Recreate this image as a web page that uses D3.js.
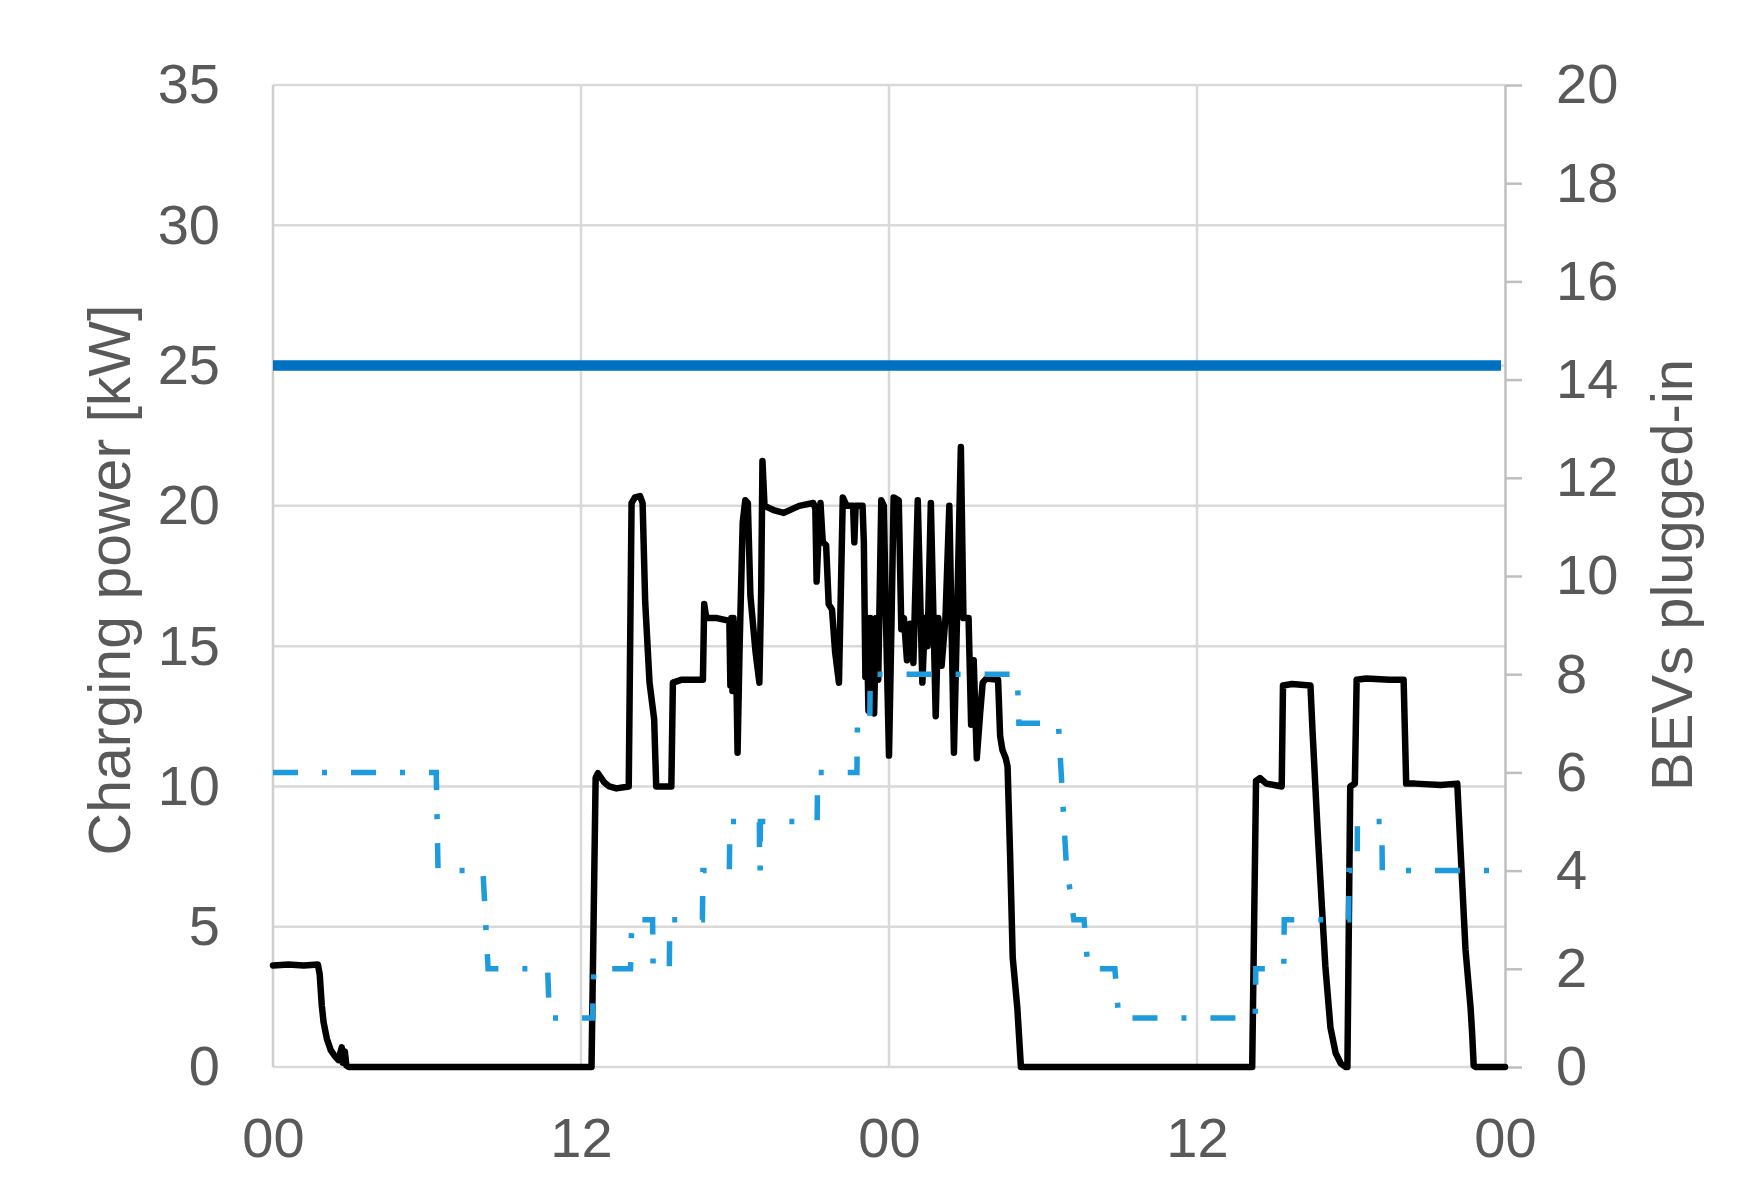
<!DOCTYPE html>
<html><head><meta charset="utf-8">
<script src="https://cdn.jsdelivr.net/npm/d3@7"></script>
<style>
body{margin:0;background:#fff}
text{font-family:"Liberation Sans",Arial,sans-serif;fill:#595959}
</style>
</head><body>
<svg id="c" width="1737" height="1190"></svg>
<script>
// ---- data ----
const xTicks = [0, 12, 24, 36, 48];
const xTickLabels = ["00", "12", "00", "12", "00"];
const leftTicks = [0, 5, 10, 15, 20, 25, 30, 35];
const rightTicks = [0, 2, 4, 6, 8, 10, 12, 14, 16, 18, 20];
const leftTitle = "Charging power [kW]";
const rightTitle = "BEVs plugged-in";
const powerLimitKW = 25;

const powerHours = [0,0.6,1.2,1.75,1.82,1.9,1.97,2.1,2.25,2.4,2.55,2.62,2.68,2.72,2.8,2.86,2.95,
 12.41,12.57,12.66,12.9,13.1,13.38,13.86,13.97,14.1,14.3,14.4,14.5,14.67,14.85,14.93,15.52,15.58,15.9,16.75,16.8,16.88,17.3,17.78,
 17.82,17.86,17.9,17.94,17.98,18.02,18.1,18.18,18.3,18.4,18.5,18.6,18.8,18.95,19.02,19.07,19.15,19.5,19.9,20.5,21.05,21.13,21.18,21.24,21.33,21.42,21.55,21.65,21.78,21.9,22.05,
 22.2,22.35,22.6,22.65,22.7,22.97,23.02,23.08,23.13,23.2,23.27,23.33,23.42,23.5,23.58,23.7,23.8,23.88,24.0,24.1,24.18,24.38,24.48,24.58,24.7,24.82,24.95,
 25.12,25.3,25.4,25.5,25.63,25.82,25.92,26.05,26.2,26.35,26.53,26.65,26.8,26.9,27.1,27.2,27.3,27.42,27.55,27.65,27.8,28.25,28.33,28.42,28.55,28.62,28.72,28.82,29.0,29.14,
 38.15,38.3,38.45,38.7,39.0,39.3,39.35,39.7,40.42,40.5,40.7,40.88,41.0,41.2,41.4,41.6,41.8,41.86,41.97,42.15,42.22,42.6,43.5,44.05,44.15,44.5,45.5,46.14,46.27,46.46,46.66,46.72,46.78,46.85,48];
const powerKW = [3.62,3.65,3.62,3.65,3.3,2.2,1.6,1.0,0.6,0.4,0.25,0.5,0.7,0.15,0.55,0.05,0,
 0,10.3,10.47,10.15,10.0,9.93,10.0,20.1,20.3,20.35,20.1,16.6,13.7,12.4,10.0,10.0,13.7,13.8,13.8,16.5,16.0,16.0,15.9,
 13.6,16.0,13.4,16.0,13.8,15.8,11.2,15.0,19.4,20.2,20.1,16.8,14.8,13.7,17.0,21.6,20.0,19.85,19.75,20.0,20.1,19.9,17.3,18.6,20.1,18.7,18.6,16.5,16.3,14.8,13.7,
 20.3,20.0,20.0,18.7,20.0,20.0,18.7,13.9,16.0,12.7,16.0,13.9,12.6,16.0,13.8,20.2,20.0,16.0,11.1,16.0,20.3,20.2,15.6,16.0,14.5,15.8,14.4,
 20.2,13.7,16.0,15.0,20.1,12.5,16.0,14.3,16.0,20.0,11.2,16.0,22.1,16.0,16.0,12.2,14.5,11.0,12.6,13.7,13.85,13.8,11.8,11.3,11.0,10.7,7.5,3.9,2.1,0,
 0,10.2,10.3,10.1,10.05,10.0,13.6,13.65,13.6,12.0,8.4,5.5,3.6,1.4,0.5,0.13,0,0,10.0,10.1,13.8,13.85,13.8,13.8,10.1,10.1,10.05,10.1,7.7,4.2,2.1,1.2,0.05,0,0];

const bevHours = [0,6.36,6.43,8.18,8.38,10.7,10.77,12.45,12.5,13.93,13.98,14.79,14.81,15.44,15.46,16.73,16.75,17.78,17.8,
 18.95,18.96,18.98,18.99,21.2,21.22,22.75,22.77,23.25,23.27,29.0,29.06,30.6,30.9,31.2,31.6,31.75,32.8,32.95,
 38.27,38.29,39.38,39.4,41.91,41.92,42.24,42.25,43.2,43.22,48];
const bevCount = [6,6,4,4,2,2,1,1,2,2,3,3,2,2,3,3,4,4,5,
 5,4,4,5,5,6,6,7,7,8,8,7,7,4.2,3,3,2,2,1,
 1,2,2,3,3,4,4,5,5,4,4];

// ---- layout ----
const M = {left: 273, right: 1505, top: 85, bottom: 1067};
const x = d3.scaleLinear().domain([0, 48]).range([M.left, M.right]);
const yL = d3.scaleLinear().domain([0, 35]).range([M.bottom, M.top]);
const yR = d3.scaleLinear().domain([0, 20]).range([M.bottom, M.top]);
const svg = d3.select("#c");
const FS = 56;
const FONT = '"Liberation Sans",Arial,sans-serif';

// gridlines
svg.append("g").selectAll("line").data(leftTicks).join("line")
  .attr("x1", x(0)).attr("x2", x(48))
  .attr("y1", d => yL(d)).attr("y2", d => yL(d))
  .attr("stroke", "#d9d9d9").attr("stroke-width", 2.5);
svg.append("g").selectAll("line").data(xTicks.slice(0, -1)).join("line")
  .attr("x1", d => x(d)).attr("x2", d => x(d))
  .attr("y1", yL(35)).attr("y2", yL(0))
  .attr("stroke", d => d === 0 ? "#cfcfcf" : "#d9d9d9").attr("stroke-width", 2.5);

// left axis (labels only)
const gL = svg.append("g").attr("transform", `translate(${M.left},0)`)
  .call(d3.axisLeft(yL).tickValues(leftTicks).tickSize(0).tickPadding(53));
gL.select(".domain").remove();
gL.selectAll("text").style("font-size", FS + "px").style("font-family", FONT).attr("fill", "#595959");

// right axis
const gR = svg.append("g").attr("transform", `translate(${M.right},0)`)
  .call(d3.axisRight(yR).tickValues(rightTicks).tickSize(17).tickSizeOuter(0).tickPadding(34));
gR.select(".domain").attr("stroke", "#bfbfbf").attr("stroke-width", 2.5);
gR.selectAll(".tick line").attr("stroke", "#bfbfbf").attr("stroke-width", 2.5);
gR.selectAll("text").style("font-size", FS + "px").style("font-family", FONT).attr("fill", "#595959");

// bottom axis (labels only)
const gB = svg.append("g").attr("transform", `translate(0,${M.bottom})`)
  .call(d3.axisBottom(x).tickValues(xTicks).tickFormat((d, i) => xTickLabels[i]).tickSize(0).tickPadding(50));
gB.select(".domain").remove();
gB.selectAll("text").style("font-size", FS + "px").style("font-family", FONT).attr("fill", "#595959");

// axis titles
svg.append("text").attr("transform", `translate(130,${(M.top + M.bottom) / 2 + 4}) rotate(-90)`)
  .attr("text-anchor", "middle").style("font-size", "59px").text(leftTitle);
svg.append("text").attr("transform", `translate(1692,${(M.top + M.bottom) / 2 - 1}) rotate(-90)`)
  .attr("text-anchor", "middle").style("font-size", "58px").text(rightTitle);

// power limit line
svg.append("line")
  .attr("x1", x(0)).attr("x2", x(48) - 4)
  .attr("y1", yL(powerLimitKW)).attr("y2", yL(powerLimitKW))
  .attr("stroke", "#0070C0").attr("stroke-width", 10.5);

// charging power
const powerData = powerHours.map((h, i) => [h, powerKW[i]]);
svg.append("path").datum(powerData)
  .attr("d", d3.line().x(d => x(d[0])).y(d => yL(d[1])))
  .attr("fill", "none").attr("stroke", "#000").attr("stroke-width", 6.5)
  .attr("stroke-linejoin", "round").attr("stroke-linecap", "round");

// BEVs plugged-in
const bevData = bevHours.map((h, i) => [h, bevCount[i]]);
svg.append("path").datum(bevData)
  .attr("d", d3.line().x(d => x(d[0])).y(d => yR(d[1])))
  .attr("fill", "none").attr("stroke", "#1e9bdc").attr("stroke-width", 5.5)
  .attr("stroke-dasharray", "25 24 5 24");
</script>
</body></html>
